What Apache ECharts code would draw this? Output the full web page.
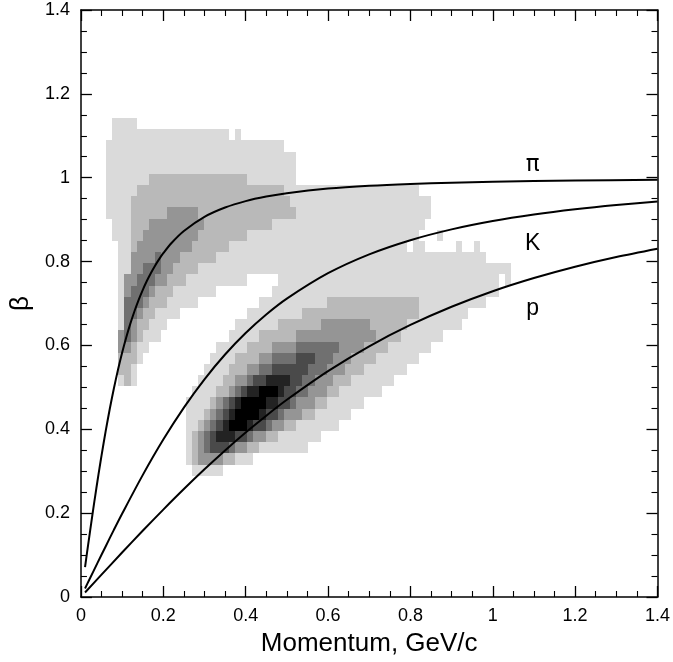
<!DOCTYPE html>
<html>
<head>
<meta charset="utf-8">
<script src="https://cdn.jsdelivr.net/npm/echarts@6/dist/echarts.min.js"></script>
<style>
  html, body { margin: 0; padding: 0; background: #fff; }
  #chart { width: 673px; height: 662px; }
</style>
</head>
<body>
<div id="chart"></div>
<script>
// ---- β(p) bands for pions, kaons and protons ----
const pionP    = [0.01, 0.015, 0.02, 0.025, 0.03, 0.035, 0.04, 0.045, 0.05, 0.06, 0.07, 0.08, 0.09, 0.10, 0.11, 0.12, 0.13, 0.14, 0.15, 0.16, 0.17, 0.18, 0.19, 0.20, 0.22, 0.25, 0.30, 0.35, 0.40, 0.45, 0.50, 0.60, 0.70, 0.80, 0.90, 1.00, 1.20, 1.40];
const pionBeta = [0.0715, 0.1069, 0.1418, 0.1763, 0.2101, 0.2432, 0.2755, 0.3069, 0.3372, 0.3949, 0.4483, 0.4973, 0.5419, 0.5824, 0.6190, 0.6519, 0.6816, 0.7082, 0.7321, 0.7536, 0.7729, 0.7903, 0.8059, 0.8200, 0.8444, 0.8731, 0.9067, 0.9289, 0.9442, 0.9551, 0.9632, 0.9740, 0.9807, 0.9851, 0.9882, 0.9904, 0.9933, 0.9951];

const kaonP    = [0.01, 0.02, 0.04, 0.06, 0.08, 0.10, 0.15, 0.20, 0.25, 0.30, 0.35, 0.40, 0.45, 0.50, 0.60, 0.70, 0.80, 0.90, 1.00, 1.10, 1.20, 1.30, 1.40];
const kaonBeta = [0.0203, 0.0405, 0.0808, 0.1206, 0.1600, 0.1985, 0.2907, 0.3755, 0.4518, 0.5193, 0.5784, 0.6295, 0.6737, 0.7116, 0.7722, 0.8172, 0.8510, 0.8768, 0.8967, 0.9123, 0.9248, 0.9349, 0.9431];

const protonP    = [0.01, 0.05, 0.10, 0.15, 0.20, 0.25, 0.30, 0.35, 0.40, 0.45, 0.50, 0.60, 0.70, 0.80, 0.90, 1.00, 1.10, 1.20, 1.30, 1.40];
const protonBeta = [0.0107, 0.0532, 0.1060, 0.1579, 0.2085, 0.2575, 0.3045, 0.3495, 0.3922, 0.4324, 0.4703, 0.5387, 0.5980, 0.6488, 0.6922, 0.7293, 0.7608, 0.7878, 0.8109, 0.8307];

const curveNames = ['π', 'K', 'p'];
// where each curve's name sits (momentum, β)
const curveTagAt = [[1.097, 1.03], [1.097, 0.843], [1.097, 0.688]];

// ---- measured density histogram ----
// bin geometry (momentum, β)
const P_FIRST = 0.0012, P_BIN = 0.0149;
const B_FIRST = 0.0227, B_BIN = 0.02666;
// [β row, first momentum column, density level per column (0 = empty)]
const densityRows = [
  [41, 5, '1111'],
  [40, 5, '111111111111111111101'],
  [39, 4, '11111111111111111111111111111'],
  [38, 4, '1111111111111111111111111111111'],
  [37, 4, '1111111111111111111111111111111'],
  [36, 4, '1111111' + '2222222222222222' + '11111111'],
  [35, 4, '11111' + '222222222222222222222222' + '1111111111111111111111'],
  [34, 4, '1111' + '22222222222222222222222222' + '11111111111111111111111'],
  [33, 4, '1111' + '222222' + '33333' + '2222222222222222' + '1111111111111111111111'],
  [32, 5, '111' + '222' + '333333333' + '22222222222' + '1111111111111111111111111'],
  [31, 5, '111' + '22' + '333333333' + '22222222' + '1111111111111111111111111111' + '000' + '1'],
  [30, 6, '11' + '2' + '333333333' + '222222' + '11111111111111111111111111111' + '0' + '11' + '00000' + '1' + '00' + '1'],
  [29, 6, '11' + '3333' + '4' + '333' + '222222' + '11111111111111111111111111111111111111111111'],
  [28, 6, '11' + '33' + '444' + '33' + '2222' + '111111111111111111111111111111111111111111111111111'],
  [27, 6, '1' + '33' + '444' + '33' + '222' + '1111111111' + '00000' + '111111111111111111111111111111111111' + '0' + '1'],
  [26, 6, '1' + '3' + '444' + '3' + '222' + '1111111' + '000000000' + '1111111111111111111111111111111111111'],
  [25, 6, '1' + '444' + '3' + '222' + '11111' + '0000000000' + '11111111111' + '222222222222222' + '11111111111'],
  [24, 6, '1' + '44' + '3' + '22' + '1111' + '00000000000' + '111111111' + '2222222222222222222' + '11111111'],
  [23, 6, '1' + '4' + '3' + '22' + '111' + '00000000000' + '1111111' + '2222222' + '33333333' + '222222' + '111111111'],
  [22, 6, '3' + '4' + '3' + '2' + '111' + '00000000000' + '11111' + '222222' + '3333333333333' + '2222' + '1111111'],
  [21, 6, '33' + '2' + '11' + '00000000000' + '11111' + '2222' + '3333' + '4444444' + '3333' + '2222' + '1111111'],
  [20, 6, '222' + '1' + '00000000000' + '1111' + '2222' + '33' + '4444' + '555' + '444' + '333' + '2222' + '1111111'],
  [19, 6, '22' + '1' + '00000000000' + '1111' + '222' + '33' + '44' + '555555' + '444' + '333' + '222' + '1111111'],
  [18, 6, '121' + '0000000000' + '1111' + '22' + '33' + '4' + '55' + '6666' + '55' + '44' + '333' + '222' + '1111111'],
  [17, 18, '1111' + '22' + '3' + '4' + '5' + '66' + '777' + '6' + '55' + '44' + '333' + '22' + '1111111'],
  [16, 17, '1111' + '23456' + '7777' + '66' + '55' + '4' + '333' + '22' + '111111'],
  [15, 17, '111' + '23456' + '7777' + '6' + '55' + '4' + '333' + '22' + '111111'],
  [14, 17, '11' + '23456' + '777' + '6' + '55' + '4' + '33' + '22' + '1111111'],
  [13, 17, '1' + '2345' + '666' + '55' + '4' + '33' + '22' + '1111111'],
  [12, 17, '1234' + '555' + '4' + '33' + '22' + '11111111'],
  [11, 17, '12' + '3333' + '22' + '111'],
  [10, 18, '11111']
];

// grey shade for each density level
const shades = ['#ffffff', '#dadada', '#b9b9b9', '#959595', '#707070', '#4a4a4a', '#232323', '#000000'];

// merge equal neighbouring bins of a row into one rectangle
const cells = [];
densityRows.forEach(([row, col0, code]) => {
  let i = 0;
  while (i < code.length) {
    const lvl = +code[i];
    let j = i;
    while (j + 1 < code.length && +code[j + 1] === lvl) j++;
    if (lvl > 0) {
      const c0 = col0 + i, c1 = col0 + j + 1;
      cells.push([
        P_FIRST + c0 * P_BIN, P_FIRST + c1 * P_BIN,
        B_FIRST + row * B_BIN, B_FIRST + (row + 1) * B_BIN,
        lvl
      ]);
    }
    i = j + 1;
  }
});

const zip = (xs, ys) => xs.map((x, k) => [x, ys[k]]);

const FONT = 'Liberation Sans, Arial, Helvetica, sans-serif';

const frameAxis = {
  type: 'value', min: 0, max: 1.4, interval: 0.2,
  axisLine: { show: true, onZero: false, lineStyle: { color: '#000', width: 1.5 } },
  axisTick: { show: true, inside: true, length: 11, lineStyle: { color: '#000', width: 1.3 } },
  minorTick: { show: true, splitNumber: 4, length: 6, lineStyle: { color: '#000', width: 1.1 } },
  splitLine: { show: false },
  minorSplitLine: { show: false }
};

const chart = echarts.init(document.getElementById('chart'), null, { renderer: 'canvas' });

chart.setOption({
  animation: false,
  backgroundColor: '#fff',
  grid: { left: 80, right: 7, top: 10, bottom: 62, containLabel: false },
  xAxis: [
    Object.assign({}, frameAxis, {
      position: 'bottom',
      axisLabel: { show: true, color: '#000', fontSize: 18, fontFamily: FONT, margin: 10, hideOverlap: false },
      name: 'Momentum, GeV/c', nameLocation: 'middle', nameGap: 34,
      nameTextStyle: { color: '#000', fontSize: 26, fontFamily: FONT }
    }),
    Object.assign({}, frameAxis, { position: 'top', axisLabel: { show: false } })
  ],
  yAxis: [
    Object.assign({}, frameAxis, {
      position: 'left',
      axisLabel: { show: true, color: '#000', fontSize: 18, fontFamily: FONT, margin: 11 },
      name: 'β', nameLocation: 'middle', nameGap: 46, nameRotate: 90,
      nameTextStyle: { color: '#000', fontSize: 26, fontFamily: FONT }
    }),
    Object.assign({}, frameAxis, { position: 'right', axisLabel: { show: false } })
  ],
  series: [
    {
      type: 'custom',
      xAxisIndex: 0, yAxisIndex: 0,
      data: cells,
      encode: { x: [0, 1], y: [2, 3] },
      silent: true,
      z: 1,
      renderItem: function (params, api) {
        const a = api.coord([api.value(0), api.value(3)]);
        const b = api.coord([api.value(1), api.value(2)]);
        const x = Math.round(a[0]), y = Math.round(a[1]);
        return {
          type: 'rect',
          shape: { x: x, y: y, width: Math.round(b[0]) - x, height: Math.round(b[1]) - y },
          style: { fill: shades[api.value(4)], stroke: null }
        };
      }
    },
    ...[[pionP, pionBeta], [kaonP, kaonBeta], [protonP, protonBeta]].map(([ps, bs], k) => ({
      type: 'line',
      name: curveNames[k],
      data: zip(ps, bs),
      smooth: 0.3,
      showSymbol: false,
      symbol: 'none',
      z: 3,
      lineStyle: { color: '#000', width: 2 }
    })),
    {
      type: 'custom',
      xAxisIndex: 0, yAxisIndex: 0,
      data: curveTagAt.map((pt, k) => [pt[0], pt[1], k]),
      encode: { x: 0, y: 1 },
      silent: true,
      z: 4,
      renderItem: function (params, api) {
        const pos = api.coord([api.value(0), api.value(1)]);
        const k = api.value(2);
        return {
          type: 'text',
          x: pos[0], y: pos[1],
          style: {
            text: curveNames[k],
            fill: '#000',
            font: k === 0 ? '23px "DejaVu Sans", "Liberation Sans", sans-serif' : '23px "Liberation Sans", Arial, sans-serif',
            align: 'center',
            verticalAlign: 'middle'
          }
        };
      }
    }
  ]
});
</script>
</body>
</html>
